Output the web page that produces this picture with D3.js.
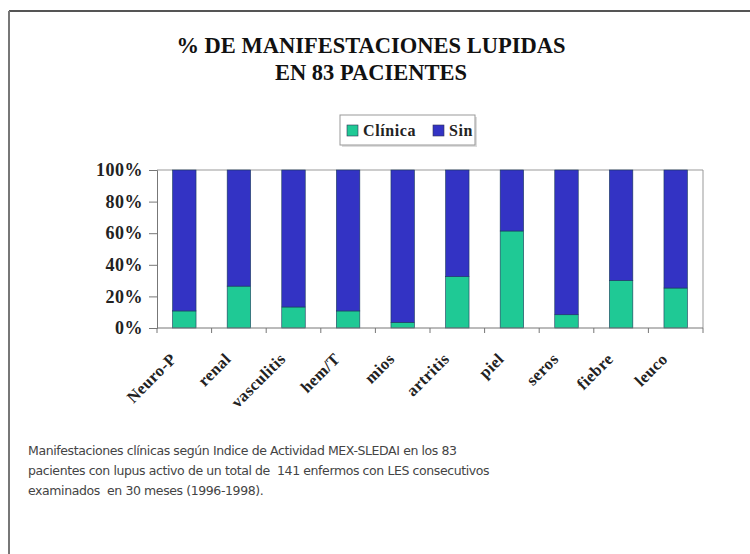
<!DOCTYPE html>
<html>
<head>
<meta charset="utf-8">
<script src="https://cdn.jsdelivr.net/npm/d3@7"></script>
<style>
  body { margin: 0; background: #fff; }
  svg { display: block; }
</style>
</head>
<body>
<div id="chart"></div>
<script>
const width = 750;
const height = 554;

// Data
const categories = ["Neuro-P", "renal", "vasculitis", "hem/T", "mios", "artritis", "piel", "seros", "fiebre", "leuco"];
const clinica = [10.8, 26.5, 13.3, 10.8, 3.6, 32.5, 61.4, 8.4, 30.1, 25.3];
const sin = clinica.map(v => 100 - v);
const seriesNames = ["Clínica", "Sin"];
const seriesColors = ["#1fc995", "#3333c4"];
const yTicks = [0, 20, 40, 60, 80, 100];
const titleLines = ["% DE MANIFESTACIONES LUPIDAS", "EN 83 PACIENTES"];
const captionLines = [
  "Manifestaciones clínicas según Indice de Actividad MEX-SLEDAI en los 83",
  "pacientes con lupus activo de un total de  141 enfermos con LES consecutivos",
  "examinados  en 30 meses (1996-1998)."
];

const serif = "'Liberation Serif', 'Times New Roman', serif";
const plot = { left: 157, right: 703, top: 170, bottom: 328 };

const svg = d3.select("#chart").append("svg")
  .attr("width", width)
  .attr("height", height);

// frame lines (top and left)
svg.append("line").attr("x1", 9).attr("x2", width).attr("y1", 11).attr("y2", 11)
  .attr("stroke", "#555").attr("stroke-width", 2);
svg.append("line").attr("x1", 9).attr("x2", 9).attr("y1", 11).attr("y2", height)
  .attr("stroke", "#777").attr("stroke-width", 2);

// title
svg.append("g")
  .selectAll("text")
  .data(titleLines)
  .join("text")
    .attr("x", 371)
    .attr("y", (d, i) => 53 + i * 27)
    .attr("text-anchor", "middle")
    .style("font-family", serif)
    .style("font-size", "22.5px")
    .style("font-weight", "bold")
    .style("fill", "#111")
    .text(d => d);

const x = d3.scaleBand()
  .domain(categories)
  .range([plot.left, plot.right])
  .paddingInner(0.57)
  .paddingOuter(0.285);

const y = d3.scaleLinear()
  .domain([0, 100])
  .range([plot.bottom, plot.top]);

const rows = categories.map((c, i) => ({ cat: c, "Clínica": clinica[i], "Sin": sin[i] }));
const stack = d3.stack().keys(seriesNames)(rows);

// plot frame (top + right)
svg.append("path")
  .attr("d", `M${plot.left},${plot.top}H${plot.right}V${plot.bottom}`)
  .attr("fill", "none")
  .attr("stroke", "#999")
  .attr("stroke-width", 1);

svg.append("g")
  .selectAll("g")
  .data(stack)
  .join("g")
    .attr("fill", (d, i) => seriesColors[i])
  .selectAll("rect")
  .data(d => d)
  .join("rect")
    .attr("x", d => x(d.data.cat))
    .attr("width", x.bandwidth())
    .attr("y", d => y(d[1]))
    .attr("height", d => y(d[0]) - y(d[1]))
    .attr("stroke", "#1a3a5a")
    .attr("stroke-width", 0.6);

// y axis
const yAxis = svg.append("g")
  .attr("transform", `translate(${plot.left},0)`)
  .call(d3.axisLeft(y).tickValues(yTicks).tickFormat(d => d + "%").tickSize(8).tickPadding(6));
yAxis.select(".domain").attr("stroke", "#777");
yAxis.selectAll(".tick line").attr("stroke", "#777");
yAxis.selectAll("text")
  .style("font-family", serif)
  .style("font-size", "18px")
  .style("letter-spacing", "0.5px")
  .style("font-weight", "bold")
  .style("fill", "#222");

// x axis: ticks at category boundaries
const xb = d3.scaleLinear().domain([0, categories.length]).range([plot.left, plot.right]);
svg.append("path")
  .attr("d", `M${plot.left},${plot.bottom}H${plot.right}`)
  .attr("stroke", "#777");
svg.append("g")
  .selectAll("line")
  .data(d3.range(categories.length + 1))
  .join("line")
    .attr("x1", d => xb(d)).attr("x2", d => xb(d))
    .attr("y1", plot.bottom).attr("y2", plot.bottom + 5)
    .attr("stroke", "#777");

svg.append("g")
  .selectAll("text")
  .data(categories)
  .join("text")
    .attr("transform", d => `translate(${x(d) + x.bandwidth() / 2 - 7},${plot.bottom + 32}) rotate(-45)`)
    .attr("text-anchor", "end")
    .style("font-family", serif)
    .style("font-size", "16.5px")
    .style("letter-spacing", "0.4px")
    .style("font-weight", "bold")
    .style("fill", "#222")
    .text(d => d);

// legend
const legend = svg.append("g").attr("transform", "translate(340,115)");
legend.append("rect")
  .attr("x", 2).attr("y", 2).attr("width", 135).attr("height", 30)
  .attr("fill", "#ddd");
legend.append("rect")
  .attr("width", 135).attr("height", 30)
  .attr("fill", "#fff")
  .attr("stroke", "#999");
const items = legend.selectAll("g")
  .data(seriesNames)
  .join("g")
    .attr("transform", (d, i) => `translate(${i === 0 ? 7 : 93},0)`);
items.append("rect")
  .attr("y", 10).attr("width", 11).attr("height", 11)
  .attr("fill", (d, i) => seriesColors[i])
  .attr("stroke", "#335")
  .attr("stroke-width", 0.6);
items.append("text")
  .attr("x", 16).attr("y", 21)
  .style("font-family", serif)
  .style("font-size", "16px")
  .style("letter-spacing", "0.6px")
  .style("font-weight", "bold")
  .style("fill", "#222")
  .text(d => d);

// caption
svg.append("g")
  .selectAll("text")
  .data(captionLines)
  .join("text")
    .attr("x", 28)
    .attr("y", (d, i) => 455 + i * 20)
    .style("white-space", "pre")
    .style("font-family", "'DejaVu Sans', sans-serif")
    .style("font-size", "12.5px")
    .style("letter-spacing", "-0.4px")
    .style("fill", "#444")
    .text(d => d);
</script>
</body>
</html>
